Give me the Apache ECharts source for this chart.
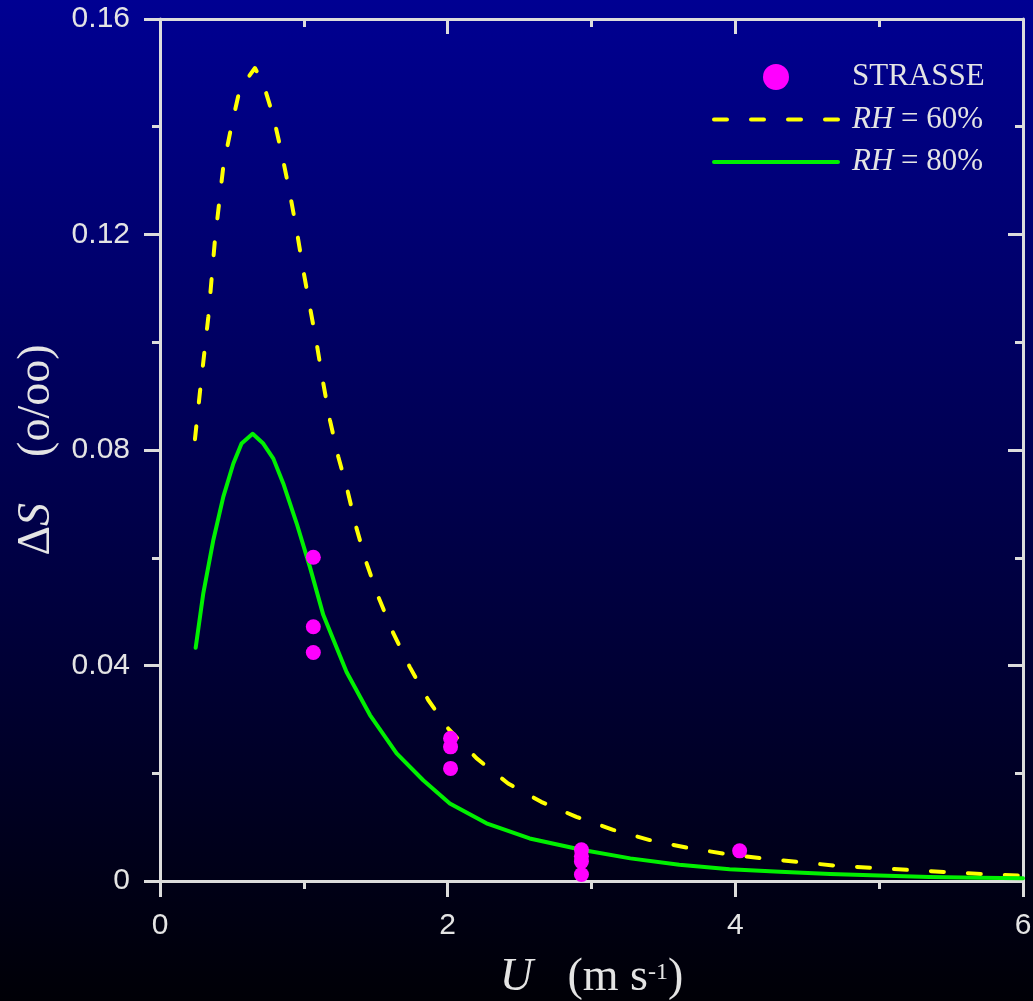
<!DOCTYPE html>
<html>
<head>
<meta charset="utf-8">
<script src="https://cdn.jsdelivr.net/npm/echarts@6/dist/echarts.min.js"></script>
<style>
  html, body { margin: 0; padding: 0; background: #000; }
  #chart { width: 1033px; height: 1001px; }
</style>
</head>
<body>
<div id="chart"></div>
<script>
// Wind speed U (m s-1) and salinity anomaly ΔS (o/oo)
const strasseU  = [1.066, 1.066, 1.066, 2.02, 2.02, 2.02, 2.93, 2.93, 2.93, 2.93, 4.03];
const strasseDS = [0.0601, 0.0472, 0.0424, 0.0265, 0.0249, 0.0209, 0.0058, 0.0046, 0.0036, 0.0012, 0.0056];

// Model curve, relative humidity 60 %
const rh60U  = [0.243, 0.278, 0.336, 0.382, 0.44, 0.498, 0.556, 0.66, 0.718, 0.788, 0.846, 0.903,
                0.95, 0.996, 1.042, 1.089, 1.135, 1.181, 1.239, 1.297, 1.366, 1.436, 1.517, 1.622,
                1.737, 1.865, 2.004, 2.2, 2.42, 2.65, 2.895, 3.15, 3.405, 3.66, 3.915, 4.19, 4.45,
                4.715, 4.98, 5.25, 5.51, 5.78, 6.0];
const rh60DS = [0.082, 0.0908, 0.1047, 0.119, 0.1326, 0.1403, 0.1471, 0.1509, 0.148, 0.1419, 0.1351, 0.1276,
                0.1208, 0.1134, 0.1066, 0.0998, 0.0924, 0.0856, 0.0788, 0.0732, 0.0655, 0.059, 0.0528, 0.046,
                0.0397, 0.0336, 0.0283, 0.0228, 0.0181, 0.0147, 0.0119, 0.0095, 0.0076, 0.0062, 0.0051, 0.0042, 0.0035,
                0.0028, 0.0024, 0.002, 0.0016, 0.0012, 0.001];

// Model curve, relative humidity 80 %
const rh80U  = [0.248, 0.301, 0.371, 0.44, 0.51, 0.567, 0.644, 0.718, 0.788, 0.857, 0.95, 1.042,
                1.135, 1.297, 1.46, 1.645, 1.83, 2.015, 2.27, 2.57, 2.93, 3.27, 3.61, 3.96,
                4.31, 4.66, 5.0, 5.35, 5.7, 6.0];
const rh80DS = [0.0433, 0.0534, 0.0633, 0.0713, 0.0775, 0.0812, 0.083, 0.0812, 0.0784, 0.0738, 0.0664, 0.0583,
                0.0494, 0.0388, 0.0308, 0.0237, 0.0187, 0.0144, 0.0107, 0.0079, 0.0058, 0.0042, 0.003, 0.0022,
                0.0017, 0.0013, 0.001, 0.00075, 0.0006, 0.0005];

const xTicks = { min: 0, max: 6, interval: 2 };
const yTicks = { min: 0, max: 0.16, interval: 0.04 };

const seriesNames = ['STRASSE', 'RH = 60%', 'RH = 80%'];

const zip = (xs, ys) => xs.map((x, i) => [x, ys[i]]);

const axisColor = '#dcdcdc';
const textColor = '#e4e4e4';
const sans = '"Liberation Sans", Arial, sans-serif';
const serif = '"Liberation Serif", "Times New Roman", serif';

function frameAxis(position, ticks, showLabels, inside) {
  return {
    type: 'value',
    position: position,
    min: ticks.min,
    max: ticks.max,
    interval: ticks.interval,
    splitLine: { show: false },
    axisLine: { show: true, onZero: false, lineStyle: { color: axisColor, width: 3 } },
    axisTick: { show: true, inside: inside, length: 16, lineStyle: { color: axisColor, width: 3 } },
    minorTick: { show: true, splitNumber: 2, length: 8, lineStyle: { color: axisColor, width: 3 } },
    minorSplitLine: { show: false },
    axisLabel: {
      show: showLabels,
      margin: 30,
      color: textColor,
      fontFamily: sans,
      fontSize: 30
    }
  };
}

const chart = echarts.init(document.getElementById('chart'), null, { renderer: 'canvas' });

const xBottom = frameAxis('bottom', xTicks, true, false);
xBottom.name = '{i|U}   {n|(m s}{s|-1}{n|)}';
xBottom.nameLocation = 'middle';
xBottom.nameGap = 74;
xBottom.nameTextStyle = {
  color: textColor,
  fontFamily: serif,
  fontSize: 46,
  rich: {
    i: { fontFamily: serif, fontSize: 46, fontStyle: 'italic', color: textColor },
    n: { fontFamily: serif, fontSize: 46, color: textColor },
    s: { fontFamily: serif, fontSize: 24, color: textColor, verticalAlign: 'top', padding: [6, 0, 0, 0] }
  }
};
const xTop = frameAxis('top', xTicks, false, true);
xTop.minorTick.length = 8;
xTop.axisTick.length = 15;

const yLeft = frameAxis('left', yTicks, true, false);
yLeft.name = '{n|Δ}{i|S}    {n|(o/oo)}';
yLeft.nameLocation = 'middle';
yLeft.nameGap = 100;
yLeft.nameRotate = 90;
yLeft.nameTextStyle = {
  color: textColor,
  fontFamily: serif,
  fontSize: 46,
  rich: {
    i: { fontFamily: serif, fontSize: 46, fontStyle: 'italic', color: textColor },
    n: { fontFamily: serif, fontSize: 46, color: textColor }
  }
};
const yRight = frameAxis('right', yTicks, false, true);
yRight.axisTick.length = 15;

chart.setOption({
  animation: false,
  backgroundColor: {
    type: 'linear', x: 0, y: 0, x2: 0, y2: 1,
    colorStops: [
      { offset: 0, color: '#000092' },
      { offset: 1, color: '#000006' }
    ]
  },
  grid: { left: 160, right: 10, top: 19, bottom: 120, containLabel: false, outerBoundsMode: 'none' },
  xAxis: [xBottom, xTop],
  yAxis: [yLeft, yRight],
  legend: {
    orient: 'vertical',
    left: 712,
    top: 61,
    padding: 0,
    itemWidth: 124,
    itemHeight: 26,
    itemGap: 10.5,
    selectedMode: false,
    lineStyle: { width: 4, cap: 'round' },
    textStyle: {
      color: textColor,
      fontFamily: serif,
      fontSize: 31,
      lineHeight: 32,
      padding: [0, 0, 0, 9],
      rich: {
        i: { fontFamily: serif, fontSize: 31, fontStyle: 'italic', color: textColor, lineHeight: 32 },
        n: { fontFamily: serif, fontSize: 31, color: textColor, lineHeight: 32 }
      }
    },
    formatter: function (name) {
      if (name.indexOf('RH') === 0) {
        return '{i|RH}{n|' + name.slice(2) + '}';
      }
      return '{n|' + name + '}';
    },
    data: [
      { name: seriesNames[0] },
      { name: seriesNames[1], itemStyle: { opacity: 0 } },
      { name: seriesNames[2], itemStyle: { opacity: 0 } }
    ]
  },
  series: [
    {
      name: seriesNames[1],
      type: 'line',
      data: zip(rh60U, rh60DS),
      symbol: 'none',
      smooth: false,
      clip: true,
      itemStyle: { color: '#ffff00' },
      lineStyle: { color: '#ffff00', width: 4, type: [13, 24], cap: 'round', join: 'round' },
      z: 3
    },
    {
      name: seriesNames[2],
      type: 'line',
      data: zip(rh80U, rh80DS),
      symbol: 'none',
      smooth: false,
      clip: true,
      itemStyle: { color: '#00f000' },
      lineStyle: { color: '#00f000', width: 4, cap: 'round', join: 'round' },
      z: 3
    },
    {
      name: seriesNames[0],
      type: 'scatter',
      data: zip(strasseU, strasseDS),
      symbol: 'circle',
      symbolSize: 15,
      itemStyle: { color: '#ff00ff', opacity: 1 },
      z: 4
    }
  ]
});
</script>
</body>
</html>
